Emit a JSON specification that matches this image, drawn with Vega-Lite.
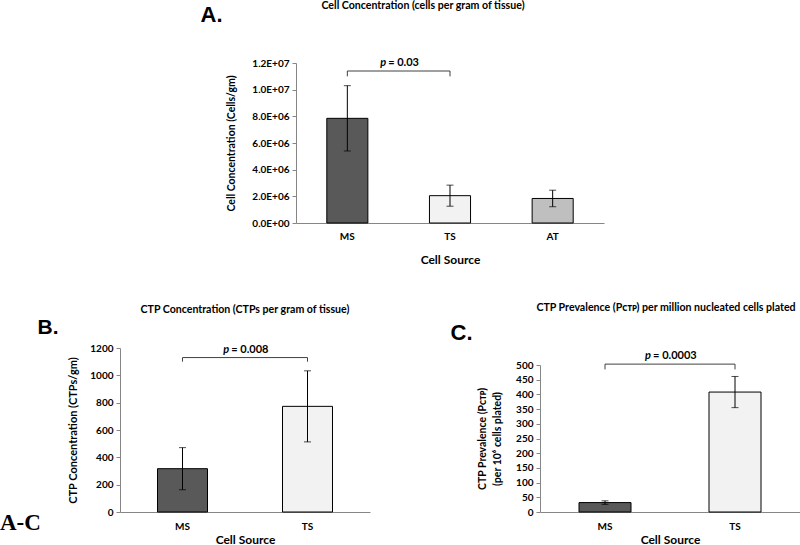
{
  "$schema": "https://vega.github.io/schema/vega-lite/v6.json",
  "background": "white",
  "padding": {"left": 0, "top": 1, "right": 0, "bottom": 0},
  "datasets": {
    "cells": [
      {"source": "MS", "mean": 7850000, "lo": 5400000, "hi": 10300000},
      {"source": "TS", "mean": 2050000, "lo": 1260000, "hi": 2840000},
      {"source": "AT", "mean": 1840000, "lo": 1220000, "hi": 2460000}
    ],
    "ctpConc": [
      {"source": "MS", "mean": 317, "lo": 163, "hi": 471},
      {"source": "TS", "mean": 773, "lo": 513, "hi": 1033}
    ],
    "ctpPrev": [
      {"source": "MS", "mean": 32, "lo": 26, "hi": 38},
      {"source": "TS", "mean": 408, "lo": 355, "hi": 461}
    ],
    "pA": [{"from": "MS", "to": "TS", "level": 11400000, "end": 11000000, "p": "p", "rest": "= 0.03"}],
    "pB": [{"from": "MS", "to": "TS", "level": 1130, "end": 1100, "p": "p", "rest": "= 0.008"}],
    "pC": [{"from": "MS", "to": "TS", "level": 503, "end": 485, "p": "p", "rest": "= 0.0003"}]
  },
  "config": {
    "view": {"stroke": null},
    "font": "Lato",
    "axis": {
      "labelFont": "Lato", "labelFontWeight": "bold", "labelFontSize": 10, "labelColor": "#000",
      "titleFont": "Lato", "titleFontWeight": "bold", "titleFontSize": 10.5, "titleColor": "#000",
      "domainColor": "#868686", "tickColor": "#868686", "grid": false, "labelOverlap": false
    },
    "axisX": {"ticks": false, "labelAngle": 0, "labelPadding": 8, "titlePadding": 8, "titleFontSize": 12},
    "axisY": {"tickSize": 4, "labelPadding": 3, "titlePadding": 8},
    "title": {"font": "Lato", "fontWeight": "bold", "fontSize": 10.6, "color": "#000"}
  },
  "title": {"text": "A-C", "orient": "bottom", "anchor": "start", "frame": "group", "dx": -120, "offset": -33, "font": "Liberation Serif", "fontSize": 23, "fontWeight": "bold", "color": "#000"},
  "bounds": "flush",
  "columns": 2,
  "spacing": {"row": 125, "column": 170},
  "concat": [
    {
      "width": 250, "height": 160,
      "title": {"text": "Cell Concentration (cells per gram of tissue)", "anchor": "middle", "frame": "group", "dx": 178, "offset": 0, "dy": 9},
      "resolve": {"axis": {"x": "independent", "y": "independent"}},
      "layer": [
        {"data": {"name": "cells"}, "mark": {"type": "bar", "stroke": "#000", "strokeWidth": 1},
         "encoding": {
           "x": {"field": "source", "type": "nominal", "title": "Cell Source", "scale": {"domain": ["MS", "TS", "AT"], "range": [176, 484], "paddingInner": 0.6, "paddingOuter": 0.3}, "axis": {"titlePadding": 13}},
           "y": {"field": "mean", "type": "quantitative", "title": "Cell Concentration (Cells/gm)", "scale": {"domain": [0, 12000000], "nice": false},
                 "axis": {"offset": -176, "titlePadding": 15, "values": [0, 2000000, 4000000, 6000000, 8000000, 10000000, 12000000], "labelExpr": "datum.value == 0 ? '0.0E+00' : (datum.value >= 10000000 ? format(datum.value/10000000, '.1f') + 'E+07' : format(datum.value/1000000, '.1f') + 'E+06')"}},
           "color": {"field": "source", "type": "nominal", "scale": {"domain": ["MS", "TS", "AT"], "range": ["#595959", "#f2f2f2", "#bfbfbf"]}, "legend": null}
         }},
        {"data": {"name": "cells"}, "mark": {"type": "rule", "color": "#000", "strokeWidth": 1},
         "encoding": {"x": {"field": "source", "type": "nominal", "axis": null}, "y": {"field": "lo", "type": "quantitative", "axis": null}, "y2": {"field": "hi"}}},
        {"data": {"name": "cells"}, "mark": {"type": "tick", "color": "#000", "size": 7, "thickness": 1, "orient": "horizontal"},
         "encoding": {"x": {"field": "source", "type": "nominal", "axis": null}, "y": {"field": "lo", "type": "quantitative", "axis": null}}},
        {"data": {"name": "cells"}, "mark": {"type": "tick", "color": "#000", "size": 7, "thickness": 1, "orient": "horizontal"},
         "encoding": {"x": {"field": "source", "type": "nominal", "axis": null}, "y": {"field": "hi", "type": "quantitative", "axis": null}}},
        {"data": {"name": "pA"}, "mark": {"type": "rule", "color": "#404040", "strokeWidth": 1},
         "encoding": {"x": {"field": "from", "type": "nominal", "axis": {"orient": "top", "domain": false, "ticks": false, "labels": false, "title": "A.", "titleX": 80, "titleY": -42, "titleAlign": "left", "titleBaseline": "alphabetic", "titleAngle": 0, "titleFont": "Liberation Sans", "titleFontSize": 22, "titleFontWeight": "bold", "titleColor": "#000"}}, "x2": {"field": "to"}, "y": {"field": "level", "type": "quantitative", "axis": null}}},
        {"data": {"name": "pA"}, "mark": {"type": "rule", "color": "#404040", "strokeWidth": 1},
         "encoding": {"x": {"field": "from", "type": "nominal", "axis": null}, "y": {"field": "level", "type": "quantitative", "axis": null}, "y2": {"field": "end"}}},
        {"data": {"name": "pA"}, "mark": {"type": "rule", "color": "#404040", "strokeWidth": 1},
         "encoding": {"x": {"field": "to", "type": "nominal", "axis": null}, "y": {"field": "level", "type": "quantitative", "axis": null}, "y2": {"field": "end"}}},
        {"data": {"name": "pA"}, "mark": {"type": "text", "font": "Lato", "fontSize": 11, "fontWeight": "bold", "fontStyle": "italic", "align": "right", "baseline": "bottom", "dx": -12.6, "dy": -3},
         "encoding": {"x": {"field": "from", "type": "nominal", "bandPosition": 1.75, "axis": null}, "y": {"field": "level", "type": "quantitative", "axis": null}, "text": {"field": "p"}}},
        {"data": {"name": "pA"}, "mark": {"type": "text", "font": "Lato", "fontSize": 11, "fontWeight": "bold", "align": "left", "baseline": "bottom", "dx": -10.5, "dy": -3},
         "encoding": {"x": {"field": "from", "type": "nominal", "bandPosition": 1.75, "axis": null}, "y": {"field": "level", "type": "quantitative", "axis": null}, "text": {"field": "rest"}}}
      ]
    },
    {"width": 1, "height": 1, "data": {"values": [{}]}, "mark": {"type": "text"}, "encoding": {"text": {"value": ""}}},
    {
      "width": 250, "height": 164,
      "title": {"text": "CTP Concentration (CTPs per gram of tissue)", "anchor": "middle", "frame": "group", "dx": 0, "offset": 0},
      "resolve": {"axis": {"x": "independent", "y": "independent"}},
      "layer": [
        {"data": {"name": "ctpConc"}, "mark": {"type": "bar", "stroke": "#000", "strokeWidth": 1},
         "encoding": {
           "x": {"field": "source", "type": "nominal", "title": "Cell Source", "scale": {"domain": ["MS", "TS"], "paddingInner": 0.6, "paddingOuter": 0.3}, "axis": {"labelPadding": 9, "titlePadding": 3}},
           "y": {"field": "mean", "type": "quantitative", "title": "CTP Concentration (CTPs/gm)", "scale": {"domain": [0, 1200], "nice": false}, "axis": {"format": "d", "titlePadding": 11, "titleFontSize": 11, "values": [0, 200, 400, 600, 800, 1000, 1200]}},
           "color": {"field": "source", "type": "nominal", "scale": {"domain": ["MS", "TS"], "range": ["#595959", "#f2f2f2"]}, "legend": null}
         }},
        {"data": {"name": "ctpConc"}, "mark": {"type": "rule", "color": "#000", "strokeWidth": 1},
         "encoding": {"x": {"field": "source", "type": "nominal", "axis": null}, "y": {"field": "lo", "type": "quantitative", "axis": null}, "y2": {"field": "hi"}}},
        {"data": {"name": "ctpConc"}, "mark": {"type": "tick", "color": "#000", "size": 7, "thickness": 1, "orient": "horizontal"},
         "encoding": {"x": {"field": "source", "type": "nominal", "axis": null}, "y": {"field": "lo", "type": "quantitative", "axis": null}}},
        {"data": {"name": "ctpConc"}, "mark": {"type": "tick", "color": "#000", "size": 7, "thickness": 1, "orient": "horizontal"},
         "encoding": {"x": {"field": "source", "type": "nominal", "axis": null}, "y": {"field": "hi", "type": "quantitative", "axis": null}}},
        {"data": {"name": "pB"}, "mark": {"type": "rule", "color": "#404040", "strokeWidth": 1},
         "encoding": {"x": {"field": "from", "type": "nominal", "axis": {"orient": "top", "domain": false, "ticks": false, "labels": false, "title": "B.", "titleX": -83, "titleY": -15, "titleAlign": "left", "titleBaseline": "alphabetic", "titleAngle": 0, "titleFont": "Liberation Sans", "titleFontSize": 21, "titleFontWeight": "bold", "titleColor": "#000"}}, "x2": {"field": "to"}, "y": {"field": "level", "type": "quantitative", "axis": null}}},
        {"data": {"name": "pB"}, "mark": {"type": "rule", "color": "#404040", "strokeWidth": 1},
         "encoding": {"x": {"field": "from", "type": "nominal", "axis": null}, "y": {"field": "level", "type": "quantitative", "axis": null}, "y2": {"field": "end"}}},
        {"data": {"name": "pB"}, "mark": {"type": "rule", "color": "#404040", "strokeWidth": 1},
         "encoding": {"x": {"field": "to", "type": "nominal", "axis": null}, "y": {"field": "level", "type": "quantitative", "axis": null}, "y2": {"field": "end"}}},
        {"data": {"name": "pB"}, "mark": {"type": "text", "font": "Lato", "fontSize": 11, "fontWeight": "bold", "fontStyle": "italic", "align": "right", "baseline": "bottom", "dx": -15.8, "dy": -3},
         "encoding": {"x": {"field": "from", "type": "nominal", "bandPosition": 1.75, "axis": null}, "y": {"field": "level", "type": "quantitative", "axis": null}, "text": {"field": "p"}}},
        {"data": {"name": "pB"}, "mark": {"type": "text", "font": "Lato", "fontSize": 11, "fontWeight": "bold", "align": "left", "baseline": "bottom", "dx": -13.7, "dy": -3},
         "encoding": {"x": {"field": "from", "type": "nominal", "bandPosition": 1.75, "axis": null}, "y": {"field": "level", "type": "quantitative", "axis": null}, "text": {"field": "rest"}}}
      ]
    },
    {
      "width": 260, "height": 164,
      "title": {"text": "CTP Prevalence (Pᴄᴛᴘ) per million nucleated cells plated", "anchor": "middle", "frame": "group", "dx": -4, "offset": 7},
      "resolve": {"axis": {"x": "independent", "y": "independent"}},
      "layer": [
        {"data": {"name": "ctpPrev"}, "mark": {"type": "bar", "stroke": "#000", "strokeWidth": 1},
         "encoding": {
           "x": {"field": "source", "type": "nominal", "title": "Cell Source", "scale": {"domain": ["MS", "TS"], "paddingInner": 0.6, "paddingOuter": 0.3}, "axis": {"labelPadding": 9, "titlePadding": 3}},
           "y": {"field": "mean", "type": "quantitative", "title": ["CTP Prevalence (Pᴄᴛᴘ)", "(per 10⁶ cells plated)"], "scale": {"domain": [0, 500], "nice": false, "range": [164, 17]}, "axis": {"titlePadding": 13, "titleLineHeight": 15, "values": [0, 50, 100, 150, 200, 250, 300, 350, 400, 450, 500]}},
           "color": {"field": "source", "type": "nominal", "scale": {"domain": ["MS", "TS"], "range": ["#595959", "#f2f2f2"]}, "legend": null}
         }},
        {"data": {"name": "ctpPrev"}, "mark": {"type": "rule", "color": "#000", "strokeWidth": 1},
         "encoding": {"x": {"field": "source", "type": "nominal", "axis": null}, "y": {"field": "lo", "type": "quantitative", "axis": null}, "y2": {"field": "hi"}}},
        {"data": {"name": "ctpPrev"}, "mark": {"type": "tick", "color": "#000", "size": 7, "thickness": 1, "orient": "horizontal"},
         "encoding": {"x": {"field": "source", "type": "nominal", "axis": null}, "y": {"field": "lo", "type": "quantitative", "axis": null}}},
        {"data": {"name": "ctpPrev"}, "mark": {"type": "tick", "color": "#000", "size": 7, "thickness": 1, "orient": "horizontal"},
         "encoding": {"x": {"field": "source", "type": "nominal", "axis": null}, "y": {"field": "hi", "type": "quantitative", "axis": null}}},
        {"data": {"name": "pC"}, "mark": {"type": "rule", "color": "#404040", "strokeWidth": 1},
         "encoding": {"x": {"field": "from", "type": "nominal", "axis": {"orient": "top", "domain": false, "ticks": false, "labels": false, "title": "C.", "titleX": -90, "titleY": -9, "titleAlign": "left", "titleBaseline": "alphabetic", "titleAngle": 0, "titleFont": "Liberation Sans", "titleFontSize": 22, "titleFontWeight": "bold", "titleColor": "#000"}}, "x2": {"field": "to"}, "y": {"field": "level", "type": "quantitative", "axis": null}}},
        {"data": {"name": "pC"}, "mark": {"type": "rule", "color": "#404040", "strokeWidth": 1},
         "encoding": {"x": {"field": "from", "type": "nominal", "axis": null}, "y": {"field": "level", "type": "quantitative", "axis": null}, "y2": {"field": "end"}}},
        {"data": {"name": "pC"}, "mark": {"type": "rule", "color": "#404040", "strokeWidth": 1},
         "encoding": {"x": {"field": "to", "type": "nominal", "axis": null}, "y": {"field": "level", "type": "quantitative", "axis": null}, "y2": {"field": "end"}}},
        {"data": {"name": "pC"}, "mark": {"type": "text", "font": "Lato", "fontSize": 11, "fontWeight": "bold", "fontStyle": "italic", "align": "right", "baseline": "bottom", "dx": -19, "dy": -3},
         "encoding": {"x": {"field": "from", "type": "nominal", "bandPosition": 1.75, "axis": null}, "y": {"field": "level", "type": "quantitative", "axis": null}, "text": {"field": "p"}}},
        {"data": {"name": "pC"}, "mark": {"type": "text", "font": "Lato", "fontSize": 11, "fontWeight": "bold", "align": "left", "baseline": "bottom", "dx": -16.9, "dy": -3},
         "encoding": {"x": {"field": "from", "type": "nominal", "bandPosition": 1.75, "axis": null}, "y": {"field": "level", "type": "quantitative", "axis": null}, "text": {"field": "rest"}}}
      ]
    }
  ]
}
